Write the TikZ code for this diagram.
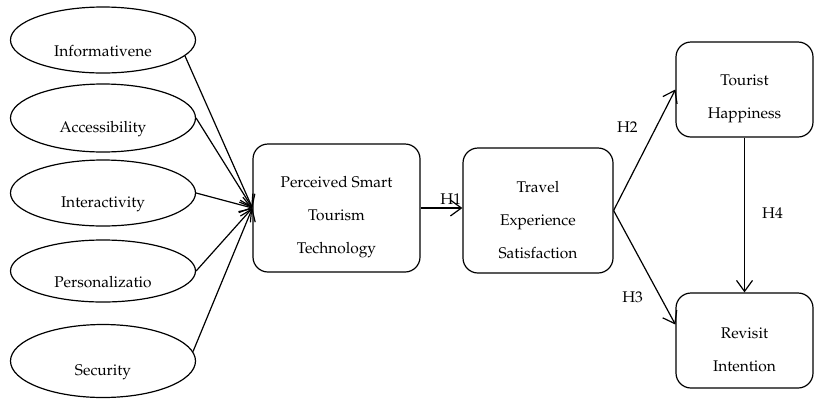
\documentclass[tikz,border=0pt]{standalone}
\usepackage[T1]{fontenc}
\usepackage{mathpazo}
\usetikzlibrary{shapes.geometric}
\usetikzlibrary{arrows.meta}
\newcommand{\topgap}{\rule{0pt}{30pt}}

\begin{document}
\begin{tikzpicture}[x=1pt,y=-1pt,>={Straight Barb[length=11pt,width=16pt]},
		line width=1.2pt,font=\fontsize{15.5}{33}\selectfont,
		factor/.style={ellipse,draw,minimum width=185pt,minimum height=66pt,inner sep=0pt,
			execute at begin node={\rule{0pt}{34pt}}},
		construct/.style={draw,rounded corners=15pt,align=center,inner sep=0pt,
			minimum width=137pt,minimum height=95pt},
		hyp/.style={inner sep=3pt}]
	\useasboundingbox (0,0) rectangle (814,400);
	% Nodes
	\node[factor] (info) at (103,40) {Informativene};
	\node[factor,minimum height=68pt] (acc) [below of=info,node distance=78pt] {Accessibility};
	\node[factor] (inter) [below of=acc,node distance=75pt] {Interactivity};
	\node[factor,minimum height=62pt] (pers) [below of=inter,node distance=78pt] {Personalizatio};
	\node[factor,minimum height=73pt] (sec) [below of=pers,node distance=90pt] {Security};
	\node[construct,minimum width=167pt,minimum height=128pt] (pst) at (336.5,208) {\topgap Perceived Smart\\Tourism\\Technology};
	\node[construct,minimum width=150pt,minimum height=125pt] (tes) at (538,210.5) {\topgap Travel\\Experience\\Satisfaction};
	\node[construct] (th) at (744.5,89.5) {\topgap Tourist\\Happiness};
	\node[construct] (ri) at (744.5,340.5) {\topgap Revisit\\Intention};

	% Edges
	\draw[->] (info.-11) -- (pst.west);
	\draw[->] (acc.east) -- (pst.west);
	\draw[->] (inter.east) -- (pst.west);
	\draw[->] (pers.east) -- (pst.west);
	\draw[->] (sec.6) -- (pst.west);
	\draw[->] (pst.east) -- node[hyp,pos=0.72,above] (h1) {H1} (pst.east -| tes.west);
	\draw[->] (tes.east) -- node[hyp,pos=0.69,left=15pt] (h2) {H2} (th.west);
	\draw[->] (tes.east) -- node[hyp,pos=0.76,left=14pt] (h3) {H3} (ri.167);
	\draw[->] (th.south) -- node[hyp,pos=0.49,right=14pt] (h4) {H4} (ri.north);
\end{tikzpicture}
\end{document}
